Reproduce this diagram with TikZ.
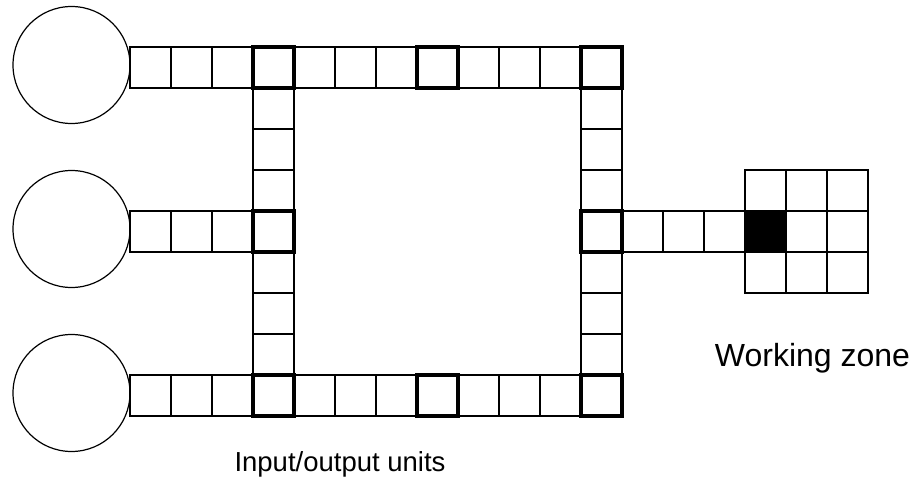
\documentclass[tikz,border=0pt]{standalone}
\usepackage{fontspec}
\setmainfont{Liberation Sans}
\usetikzlibrary{positioning}
\tikzset{
	cell/.style={draw=black,line width=1.2pt,minimum size=41pt,inner sep=0pt,outer sep=0pt},
	hub/.style={cell,line width=3.4pt},
	busy/.style={cell,fill=black},
	port/.style={circle,draw=black,line width=1.2pt,minimum size=117pt,inner sep=0pt,outer sep=0pt},
}

\begin{document}
\begin{tikzpicture}[x=1pt,y=-1pt]
			\useasboundingbox (0,0) rectangle (918,481);
			% rows of the ring
			\foreach \i in {0,...,11}
			{\node[cell] (c-\i-0) at (150.5+41*\i,67.5) {};
			 \node[cell] (c-\i-8) at (150.5+41*\i,395.5) {};}
			% columns of the ring
			\foreach \j in {1,...,7}
			{\node[cell] (c-3-\j) at (273.5,67.5+41*\j) {};
			 \node[cell] (c-11-\j) at (601.5,67.5+41*\j) {};}
			% middle arms
			\foreach \i in {0,1,2,12,13,14}
			\node[cell] (c-\i-4) at (150.5+41*\i,231.5) {};
			% working zone
			\foreach \i in {15,16,17}
			\foreach \j in {3,4,5}
			\node[cell] (w-\i-\j) at (150.5+41*\i,67.5+41*\j) {};
			\node[busy] (w-busy) at (w-15-4) {};
			% junctions
			\foreach \i/\j in {3/0,7/0,11/0,3/4,11/4,3/8,7/8,11/8}
			\node[hub] (h-\i-\j) at (150.5+41*\i,67.5+41*\j) {};
			% input/output units
			\foreach \j/\n in {0/a,4/b,8/c}
			\node[port,left=0pt of c-0-\j,yshift=2.5pt] (unit-\n) {};
			\node[anchor=base,font=\fontsize{27.5}{33}\selectfont] (lbl-io) at (340,471) {Input/output units};
			\node[anchor=base,font=\fontsize{32}{38}\selectfont] (lbl-wz) at (812.5,366.5) {Working zone};
		\end{tikzpicture}
\end{document}
